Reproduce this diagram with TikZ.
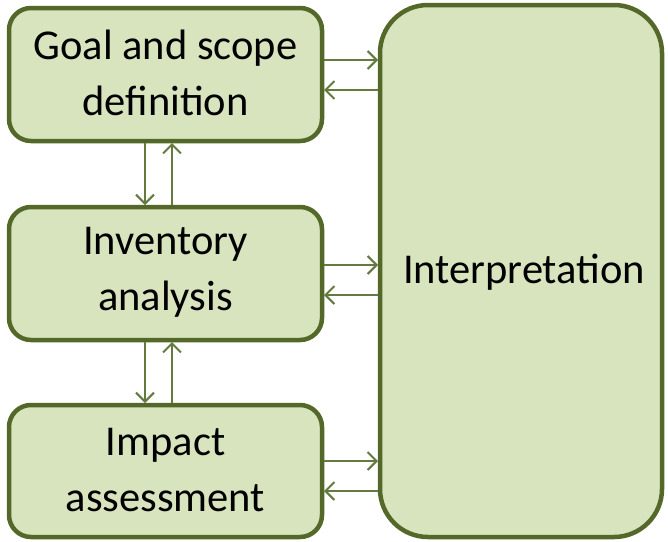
\documentclass[tikz,border=0pt]{standalone}
\usepackage{fontspec}
\setmainfont{Carlito}
\usetikzlibrary{arrows.meta}
\definecolor{boxfill}{RGB}{215,228,189}
\definecolor{boxline}{RGB}{84,104,42}
\definecolor{arrowline}{RGB}{100,122,62}
\begin{document}
\begin{tikzpicture}[x=1pt,y=-1pt,
  stage/.style={draw=boxline,fill=boxfill,line width=4.5pt,rounded corners=22pt},
  label/.style={align=center,font=\fontsize{42.5}{56}\selectfont,text=black},
  flow/.style={draw=arrowline,line width=2pt,-{Straight Barb[length=9pt,width=18pt,line width=2pt]}}]
\useasboundingbox (0,0) rectangle (668,541);
% stage boxes
\draw[stage] (9,8) rectangle (322,141);
\draw[stage] (9,207) rectangle (322,340);
\draw[stage] (9,405) rectangle (322,537);
\draw[stage,rounded corners=48pt] (380,5) rectangle (662,537);
\node[label] (goal) at (165.5,73) {Goal and scope\\definition};
\node[label] (inv) at (165.5,272) {Inventory\\analysis};
\node[label] (imp) at (165.5,470) {Impact\\assessment};
\node[label] (interp) at (524,272) {Interpretation};
% coordinates on box edges
\coordinate (g1) at (324,60);  \coordinate (i1) at (378,60);
\coordinate (g2) at (324,90);  \coordinate (i2) at (378,90);
\coordinate (v1) at (324,265); \coordinate (j1) at (378,265);
\coordinate (v2) at (324,295); \coordinate (j2) at (378,295);
\coordinate (m1) at (324,461); \coordinate (k1) at (378,461);
\coordinate (m2) at (324,491); \coordinate (k2) at (378,491);
\coordinate (gd) at (145,143); \coordinate (vd) at (145,205);
\coordinate (gu) at (172,143); \coordinate (vu) at (172,205);
\coordinate (vd2) at (145,342); \coordinate (md) at (145,403);
\coordinate (vu2) at (172,342); \coordinate (mu) at (172,403);
% connectors
\draw[flow] (g1) -- (i1);
\draw[flow] (i2) -- (g2);
\draw[flow] (v1) -- (j1);
\draw[flow] (j2) -- (v2);
\draw[flow] (m1) -- (k1);
\draw[flow] (k2) -- (m2);
\draw[flow] (gd) -- (vd);
\draw[flow] (vu) -- (gu);
\draw[flow] (vd2) -- (md);
\draw[flow] (mu) -- (vu2);
\end{tikzpicture}
\end{document}
